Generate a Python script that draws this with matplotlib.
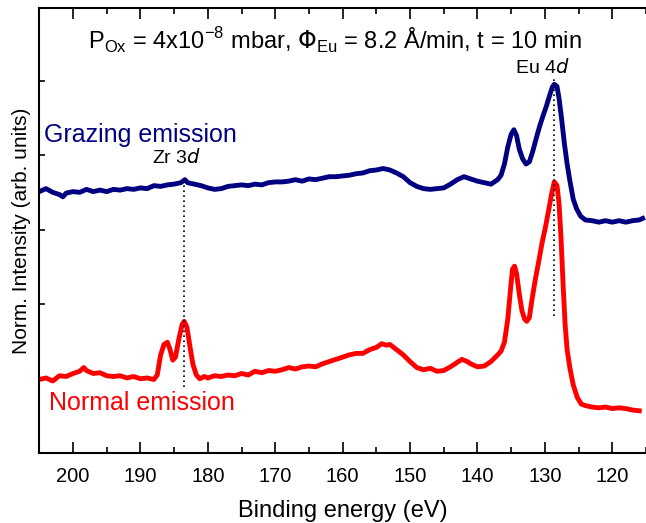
import matplotlib.pyplot as plt
from matplotlib.ticker import MultipleLocator

# --- DATA ---

normal_energy = [205, 204, 203, 202, 201, 200, 199, 198.4, 198, 197, 196, 195, 194, 193,
                 192, 191, 190, 189, 188, 187.5, 187, 186.5, 186, 185.6, 185.2, 184.8,
                 184.3, 183.8, 183.5, 183.1, 182.7, 182.2, 181.7, 181.2, 180.5, 180, 179,
                 178, 177, 176, 175, 174, 173, 172, 171, 170, 169, 168, 167, 166, 165,
                 164, 163, 162, 161, 160, 159, 158, 157, 156, 155, 154.2, 153.5, 153, 152,
                 151, 150, 149, 148, 147, 146, 145, 144, 143, 142.3, 141.5, 141, 140, 139,
                 138, 137, 136.5, 136, 135.5, 135.1, 134.8, 134.5, 134.2, 133.8, 133.4,
                 133, 132.7, 132.3, 131.9, 131.4, 130.9, 130.4, 129.9, 129.4, 129, 128.6,
                 128.2, 127.9, 127.6, 127.3, 127, 126.7, 126.3, 125.8, 125.2, 124.6, 124,
                 123, 122, 121, 120, 119, 118, 117, 116]
normal_intensity = [0.99, 1.01, 0.97, 1.04, 1.03, 1.07, 1.10, 1.15, 1.11, 1.07, 1.08, 1.04,
                    1.03, 1.04, 1.01, 1.03, 1.00, 1.01, 0.99, 1.05, 1.32, 1.46, 1.49, 1.39,
                    1.25, 1.29, 1.53, 1.73, 1.77, 1.69, 1.46, 1.19, 1.05, 1.00, 1.03, 1.01,
                    1.04, 1.03, 1.05, 1.04, 1.07, 1.05, 1.10, 1.08, 1.11, 1.10, 1.12, 1.15,
                    1.13, 1.16, 1.17, 1.16, 1.20, 1.23, 1.26, 1.29, 1.32, 1.34, 1.34, 1.39,
                    1.42, 1.47, 1.45, 1.46, 1.39, 1.32, 1.23, 1.15, 1.12, 1.14, 1.10, 1.11,
                    1.16, 1.22, 1.26, 1.23, 1.20, 1.16, 1.17, 1.23, 1.32, 1.37, 1.49, 1.80,
                    2.20, 2.47, 2.51, 2.41, 2.14, 1.91, 1.80, 1.77, 1.82, 2.07, 2.34, 2.58,
                    2.83, 3.04, 3.28, 3.48, 3.64, 3.59, 3.35, 2.88, 2.27, 1.73, 1.39, 1.15,
                    0.92, 0.75, 0.66, 0.64, 0.62, 0.61, 0.62, 0.60, 0.61, 0.60, 0.58, 0.57]

grazing_energy = [205, 204, 203, 202, 201.5, 201, 200, 199, 198, 197, 196, 195, 194, 193,
                  192, 191, 190, 189, 188, 187, 186, 185, 184, 183.4, 183, 182, 181, 180,
                  179, 178, 177, 176, 175, 174, 173, 172, 171, 170, 169, 168, 167, 166,
                  165, 164, 163, 162, 161, 160, 159, 158, 157, 156, 155, 154, 153, 152,
                  151, 150, 149, 148, 147, 146, 145, 144, 143, 142, 141, 140, 139, 138,
                  137, 136.5, 136, 135.5, 135, 134.6, 134.2, 133.8, 133.3, 132.8, 132.3,
                  131.8, 131.3, 130.8, 130.3, 129.8, 129.3, 128.9, 128.6, 128.2, 127.9,
                  127.5, 127.1, 126.7, 126.3, 125.8, 125.3, 124.7, 124, 123, 122, 121,
                  120, 119, 118, 117, 116, 115.5]
grazing_intensity = [3.51, 3.55, 3.50, 3.47, 3.44, 3.49, 3.51, 3.50, 3.54, 3.51, 3.53, 3.51,
                     3.54, 3.53, 3.55, 3.54, 3.56, 3.55, 3.59, 3.58, 3.60, 3.61, 3.63, 3.67,
                     3.63, 3.61, 3.59, 3.56, 3.54, 3.55, 3.58, 3.59, 3.60, 3.59, 3.61, 3.60,
                     3.63, 3.64, 3.64, 3.65, 3.67, 3.65, 3.68, 3.67, 3.69, 3.71, 3.71, 3.72,
                     3.73, 3.75, 3.76, 3.79, 3.80, 3.82, 3.80, 3.76, 3.71, 3.63, 3.58, 3.55,
                     3.54, 3.55, 3.56, 3.61, 3.67, 3.71, 3.68, 3.65, 3.63, 3.61, 3.67, 3.73,
                     3.88, 4.11, 4.28, 4.34, 4.26, 4.08, 3.95, 3.88, 3.91, 4.05, 4.22, 4.38,
                     4.52, 4.65, 4.80, 4.91, 4.95, 4.92, 4.76, 4.47, 4.15, 3.88, 3.66, 3.41,
                     3.28, 3.18, 3.13, 3.12, 3.10, 3.12, 3.10, 3.12, 3.10, 3.12, 3.13, 3.15]

zr_energy = 183.5
eu_energy = 128.6

# --- PLOT ---

plt.rcParams['font.family'] = ['Liberation Sans', 'DejaVu Sans']

fig = plt.figure(figsize=(6.46, 5.23), dpi=100)
ax = fig.add_axes([0.0608, 0.1333, 0.9392, 0.851])

ax.plot(grazing_energy, grazing_intensity, color='#000080', lw=3.5)
ax.plot(normal_energy, normal_intensity, color='#ff0000', lw=3.5)

ax.vlines(zr_energy, 0.89, 3.71, colors='black', linestyles=(0, (1, 2)), lw=1.2)
ax.vlines(eu_energy, 1.84, 5.03, colors='black', linestyles=(0, (1, 2)), lw=1.2)

ax.text(184.6, 3.97, 'Zr 3$\\it{d}$', ha='center', va='center', fontsize=14)
ax.text(130.4, 5.18, 'Eu 4$\\it{d}$', ha='center', va='center', fontsize=14)
ax.text(204.3, 4.27, 'Grazing emission', color='#000080', ha='left', va='center', fontsize=18)
ax.text(203.6, 0.68, 'Normal emission', color='#ff0000', ha='left', va='center', fontsize=18)
ax.text(0.487, 0.926,
        'P$_{\\mathregular{Ox}}$ = 4x10$^{\\mathregular{-8}}$ mbar, '
        '$\\Phi_{\\mathregular{Eu}}$ = 8.2 \u00c5/min, t = 10 min',
        transform=ax.transAxes, ha='center', va='center', fontsize=17)

ax.set_xlim(205, 115)
ax.set_ylim(0, 5.97)
ax.xaxis.set_major_locator(MultipleLocator(10))
ax.xaxis.set_minor_locator(MultipleLocator(5))
ax.yaxis.set_major_locator(MultipleLocator(1))
ax.tick_params(axis='x', which='major', direction='in', length=8, width=1.2,
               top=True, labelsize=14.5, pad=10)
ax.tick_params(axis='x', which='minor', direction='in', length=4, width=1.2, top=True)
ax.tick_params(axis='y', which='major', direction='in', length=4, width=1.2,
               labelleft=False)
ax.spines['right'].set_visible(False)
for s in ['left', 'bottom', 'top']:
    ax.spines[s].set_linewidth(1.5)

ax.set_xlabel('Binding energy (eV)', fontsize=17, labelpad=10)
ax.set_ylabel('Norm. Intensity (arb. units)', fontsize=15, labelpad=6)

fig.savefig('out.png', dpi=100)
